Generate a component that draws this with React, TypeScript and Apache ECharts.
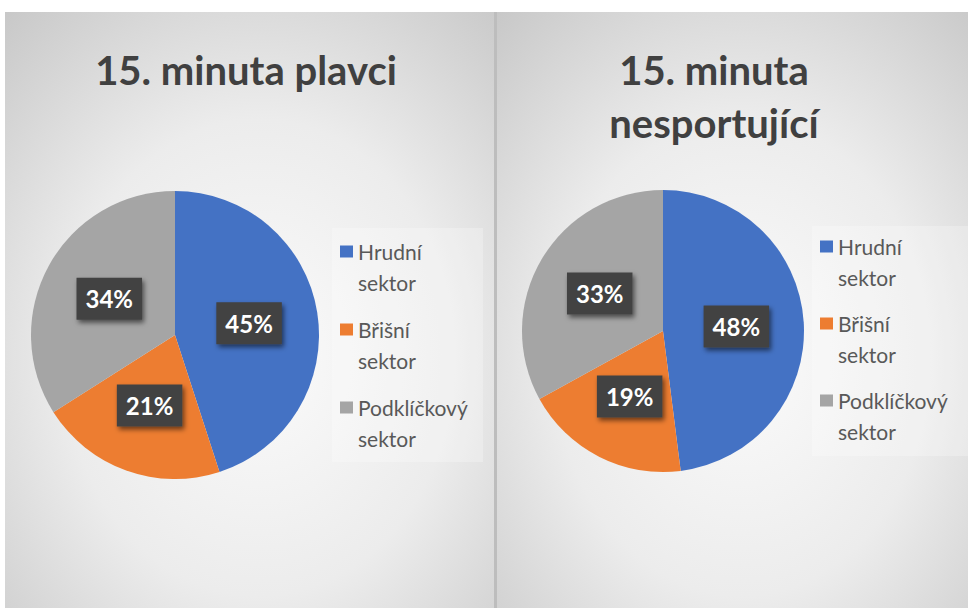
import React, { useEffect, useRef } from "react";
import * as echarts from "echarts";

const categories = ["Hrudní sektor", "Břišní sektor", "Podklíčkový sektor"];
const plavciValues = [45, 21, 34];
const nesportujiciValues = [48, 19, 33];
const titles = ["15. minuta plavci", "15. minuta\nnesportující"];
const colors = ["#4472C4", "#ED7D31", "#A5A5A5"];

const FONT = "Lato";

function panelFill(cx: number, cy: number) {
  return {
    type: "radial",
    x: cx,
    y: cy,
    r: 0.8,
    colorStops: [
      { offset: 0, color: "#fbfbfb" },
      { offset: 0.5, color: "#ececec" },
      { offset: 1, color: "#c6c6c6" },
    ],
  };
}

export default function App() {
  const ref = useRef<HTMLDivElement>(null);
  useEffect(() => {
    if (!ref.current) return;
    const chart = echarts.init(ref.current, null, { renderer: "svg" });

    const legendText = {
      fontFamily: FONT,
      fontSize: 21,
      lineHeight: 31,
      color: "#595959",
    };
    // leading blank line keeps the first text line level with the square
    const legendFormatter = (n: string) => "\n" + n.replace(" ", "\n");

    const pieSeries = (name: string, values: number[], center: number[], radius: number) => ({
      type: "pie",
      name,
      center,
      radius,
      startAngle: 90,
      clockwise: true,
      percentPrecision: 0,
      emphasis: { disabled: true },
      itemStyle: { borderWidth: 0 },
      label: {
        show: true,
        position: "inside",
        formatter: "{d}%",
        color: "#ffffff",
        fontFamily: FONT,
        fontSize: 24,
        fontWeight: "bold",
        backgroundColor: "#424242",
        padding: [10, 9, 8, 9],
        shadowColor: "rgba(0,0,0,0.55)",
        shadowBlur: 5,
        shadowOffsetX: 2,
        shadowOffsetY: 3,
      },
      labelLine: { show: false },
      data: categories.map((c, i) => ({ name: c, value: values[i] })),
    });

    chart.setOption({
      animation: false,
      color: colors,
      graphic: [
        { type: "rect", z: -20, shape: { x: 5, y: 12, width: 963, height: 596 }, style: { fill: "#bdbdbd" } },
        { type: "rect", z: -19, shape: { x: 5, y: 12, width: 489, height: 596 }, style: { fill: panelFill(0.52, 0.58) as any } },
        { type: "rect", z: -19, shape: { x: 497, y: 12, width: 471, height: 596 }, style: { fill: panelFill(0.52, 0.58) as any } },
        { type: "rect", z: -18, shape: { x: 332, y: 228, width: 151, height: 234 }, style: { fill: "rgba(255,255,255,0.25)" } },
        { type: "rect", z: -18, shape: { x: 812, y: 226, width: 156, height: 230 }, style: { fill: "rgba(255,255,255,0.25)" } },
      ],
      title: [
        {
          text: titles[0],
          left: 246,
          top: 48,
          textAlign: "center",
          padding: 0,
          textStyle: { fontFamily: FONT, fontSize: 40, fontWeight: "bold", color: "#404040", lineHeight: 44 },
        },
        {
          text: titles[1],
          left: 714,
          top: 43,
          textAlign: "center",
          padding: 0,
          textStyle: { fontFamily: FONT, fontSize: 40, fontWeight: "bold", color: "#404040", lineHeight: 53 },
        },
      ],
      legend: [
        {
          orient: "vertical",
          left: 340,
          top: 205,
          padding: 0,
          itemGap: -15,
          itemWidth: 13,
          itemHeight: 12,
          icon: "rect",
          selectedMode: false,
          data: categories,
          formatter: legendFormatter,
          textStyle: legendText,
        },
        {
          orient: "vertical",
          left: 820,
          top: 200,
          padding: 0,
          itemGap: -16,
          itemWidth: 13,
          itemHeight: 12,
          icon: "rect",
          selectedMode: false,
          data: categories,
          formatter: legendFormatter,
          textStyle: legendText,
        },
      ],
      series: [
        pieSeries(titles[0], plavciValues, [175, 335], 144),
        pieSeries(titles[1], nesportujiciValues, [663, 331], 141),
      ],
    });
    return () => chart.dispose();
  }, []);
  return (
    <div
      ref={ref}
      style={{ position: "fixed", left: 0, top: 0, width: 968, height: 608, background: "#ffffff" }}
    />
  );
}
